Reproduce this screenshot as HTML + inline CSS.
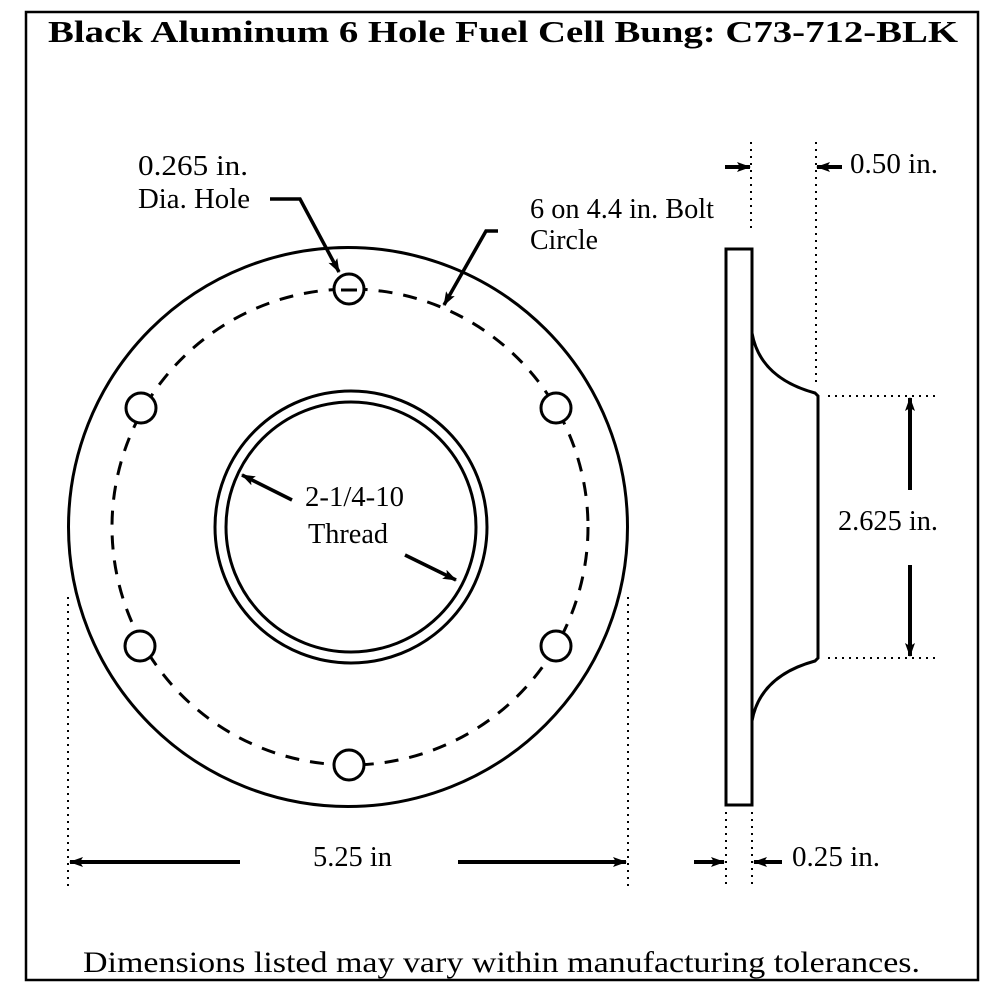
<!DOCTYPE html>
<html><head><style>
html,body{margin:0;padding:0;background:#fff;width:1000px;height:1000px;overflow:hidden}
svg text{font-family:"Liberation Serif",serif;fill:#000}
</style></head><body>
<svg width="1000" height="1000" viewBox="0 0 1000 1000" xmlns="http://www.w3.org/2000/svg">
<defs>
<marker id="ah" markerWidth="14" markerHeight="10" refX="13" refY="5" orient="auto" markerUnits="userSpaceOnUse"><path d="M0,0 L14,5 L0,10 L3,5 Z" fill="#000"/></marker>
</defs>
<rect x="26" y="12" width="952" height="968" fill="none" stroke="#000" stroke-width="2.5"/>
<text x="48" y="42" font-size="31" font-weight="bold" textLength="910" lengthAdjust="spacingAndGlyphs">Black Aluminum 6 Hole Fuel Cell Bung: C73-712-BLK</text>
<g fill="none" stroke="#000" stroke-width="3">
<circle cx="348" cy="527" r="279.5"/>
<circle cx="350" cy="527" r="238" stroke-dasharray="14,11"/>
<circle cx="351" cy="527" r="136"/>
<circle cx="351" cy="527" r="125"/>
<g fill="#fff">
<circle cx="349" cy="289" r="15"/>
<circle cx="556" cy="408" r="15"/>
<circle cx="556" cy="646" r="15"/>
<circle cx="349" cy="765" r="15"/>
<circle cx="140" cy="646" r="15"/>
<circle cx="141" cy="408" r="15"/>
</g>
</g>
<line x1="341" y1="290" x2="357" y2="290" stroke="#000" stroke-width="3"/>
<g fill="none" stroke="#000" stroke-width="3.5">
<polyline points="270,199 300,199 339,272" marker-end="url(#ah)"/>
<polyline points="498,231 486,231 444,305" marker-end="url(#ah)"/>
<line x1="292" y1="500" x2="242" y2="475" marker-end="url(#ah)"/>
<line x1="405" y1="555" x2="456" y2="580" marker-end="url(#ah)"/>
</g>
<g font-size="29">
<text x="138" y="175" textLength="110" lengthAdjust="spacingAndGlyphs">0.265 in.</text>
<text x="138" y="208" textLength="112" lengthAdjust="spacingAndGlyphs">Dia. Hole</text>
<text x="530" y="218" textLength="184" lengthAdjust="spacingAndGlyphs">6 on 4.4 in. Bolt</text>
<text x="530" y="249" textLength="68" lengthAdjust="spacingAndGlyphs">Circle</text>
<text x="305" y="506" textLength="99" lengthAdjust="spacingAndGlyphs">2-1/4-10</text>
<text x="308" y="543" textLength="80" lengthAdjust="spacingAndGlyphs">Thread</text>
<text x="313" y="866" textLength="79" lengthAdjust="spacingAndGlyphs">5.25 in</text>
<text x="850" y="173" textLength="88" lengthAdjust="spacingAndGlyphs">0.50 in.</text>
<text x="838" y="530" textLength="100" lengthAdjust="spacingAndGlyphs">2.625 in.</text>
<text x="792" y="866" textLength="88" lengthAdjust="spacingAndGlyphs">0.25 in.</text>
</g>
<g stroke="#000" stroke-width="2" stroke-dasharray="2,5" fill="none">
<line x1="68" y1="597" x2="68" y2="886"/>
<line x1="628" y1="597" x2="628" y2="886"/>
</g>
<g stroke="#000" stroke-width="4" fill="none">
<line x1="240" y1="862" x2="70" y2="862" marker-end="url(#ah)"/>
<line x1="458" y1="862" x2="626" y2="862" marker-end="url(#ah)"/>
</g>
<g fill="none" stroke="#000" stroke-width="3">
<rect x="726" y="249" width="26" height="556"/>
<path d="M752,333 Q760,378 815,393 L818,396 L818,658 L815,661 Q760,676 752,721"/>
</g>
<g stroke="#000" stroke-width="2" stroke-dasharray="2,5" fill="none">
<line x1="751" y1="142" x2="751" y2="233"/>
<line x1="816" y1="142" x2="816" y2="386"/>
<line x1="828" y1="396" x2="936" y2="396"/>
<line x1="828" y1="658" x2="936" y2="658"/>
<line x1="726" y1="812" x2="726" y2="886"/>
<line x1="752" y1="812" x2="752" y2="886"/>
</g>
<g stroke="#000" stroke-width="4" fill="none">
<line x1="725" y1="167" x2="750" y2="167" marker-end="url(#ah)"/>
<line x1="842" y1="167" x2="817" y2="167" marker-end="url(#ah)"/>
<line x1="910" y1="490" x2="910" y2="398" marker-end="url(#ah)"/>
<line x1="910" y1="565" x2="910" y2="656" marker-end="url(#ah)"/>
<line x1="694" y1="862" x2="724" y2="862" marker-end="url(#ah)"/>
<line x1="782" y1="862" x2="754" y2="862" marker-end="url(#ah)"/>
</g>
<text x="83" y="972" font-size="30" textLength="837" lengthAdjust="spacingAndGlyphs">Dimensions listed may vary within manufacturing tolerances.</text>
</svg>
</body></html>
